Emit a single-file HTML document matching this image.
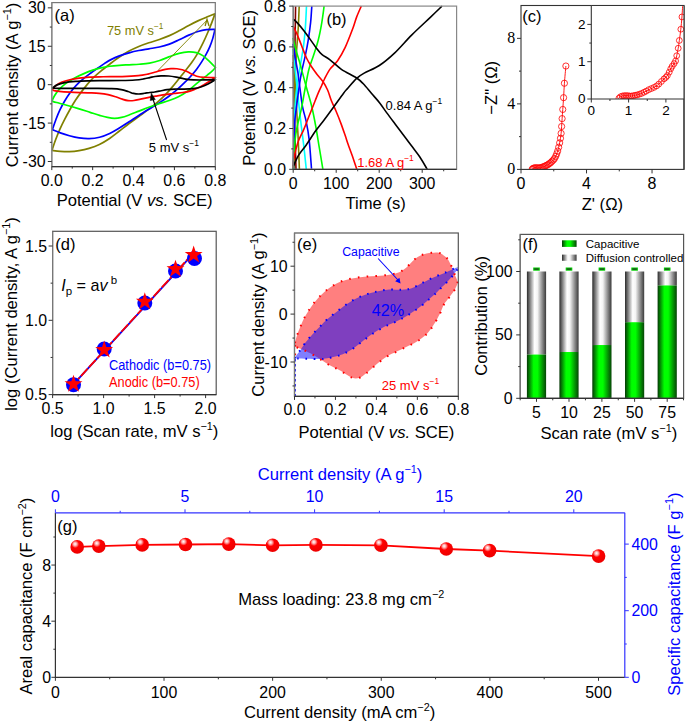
<!DOCTYPE html><html><head><meta charset="utf-8"><style>html,body{margin:0;padding:0;background:#fff;width:685px;height:722px;overflow:hidden}svg{display:block;font-family:"Liberation Sans",sans-serif}</style></head><body>
<svg width="685" height="722" viewBox="0 0 685 722">
<rect width="685" height="722" fill="#fff"/>
<g fill="none" stroke-width="1.7" stroke-linejoin="round">
<path d="M51.9,150.4 C52.55,148.55 54.46,142.83 55.8,139.28 C57.14,135.72 58.43,132.45 59.92,129.1 C61.42,125.75 63.08,122.46 64.78,119.15 C66.48,115.84 68.35,112.36 70.12,109.22 C71.9,106.09 73.63,103.13 75.45,100.32 C77.27,97.52 79.08,94.99 81.03,92.38 C82.97,89.76 85.02,87.1 87.1,84.62 C89.18,82.15 91.24,79.75 93.53,77.5 C95.81,75.25 98.13,73.32 100.83,71.1 C103.52,68.88 106.6,66.54 109.7,64.2 C112.8,61.86 116.17,59.23 119.4,57.05 C122.63,54.87 125.87,52.86 129.1,51.1 C132.33,49.34 135.5,47.88 138.8,46.5 C142.1,45.12 145.45,43.97 148.88,42.8 C152.3,41.63 155.9,40.69 159.32,39.5 C162.75,38.31 166.1,37.1 169.4,35.65 C172.7,34.2 175.87,32.48 179.1,30.78 C182.33,29.08 185.55,27.14 188.78,25.45 C192,23.76 195.32,22.07 198.43,20.62 C201.53,19.18 204.64,17.94 207.4,16.8 C210.16,15.66 213.73,14.3 215,13.8 L215,13.8 C214.46,15.27 212.96,19.53 211.78,22.6 C210.59,25.68 209.33,28.86 207.88,32.25 C206.42,35.64 204.78,39.37 203.05,42.92 C201.32,46.48 199.39,50.3 197.5,53.58 C195.61,56.85 193.68,59.77 191.7,62.58 C189.72,65.38 187.72,67.74 185.6,70.42 C183.48,73.11 181.21,75.9 178.98,78.67 C176.74,81.45 174.46,84.39 172.17,87.08 C169.89,89.76 167.72,92.29 165.28,94.8 C162.83,97.31 160.31,99.68 157.5,102.12 C154.69,104.57 151.55,107.05 148.43,109.45 C145.3,111.85 142,114.15 138.78,116.5 C135.55,118.85 132.33,121.1 129.1,123.53 C125.87,125.95 122.65,128.53 119.4,131.03 C116.15,133.52 112.91,136.25 109.58,138.5 C106.24,140.75 102.8,142.89 99.38,144.53 C95.95,146.16 92.43,147.32 89.05,148.32 C85.67,149.33 82.38,150.02 79.1,150.55 C75.82,151.08 72.55,151.4 69.4,151.53 C66.25,151.65 63.09,151.46 60.18,151.28 C57.26,151.09 53.28,150.55 51.9,150.4Z" stroke="#808000" stroke-width="1.7" fill="none"/>
<path d="M52.4,129.6 C52.99,127.92 54.67,122.8 55.92,119.52 C57.18,116.25 58.49,113.01 59.92,109.97 C61.36,106.94 62.87,104.12 64.53,101.3 C66.18,98.48 67.93,95.74 69.88,93.07 C71.82,90.41 73.98,87.7 76.2,85.33 C78.42,82.95 80.78,80.85 83.22,78.8 C85.67,76.75 88.32,74.85 90.85,73 C93.38,71.15 96.12,69.27 98.42,67.67 C100.73,66.08 102.59,64.74 104.67,63.4 C106.76,62.06 108.5,60.87 110.95,59.62 C113.4,58.38 116.38,57.06 119.4,55.92 C122.43,54.79 125.87,53.73 129.1,52.83 C132.33,51.93 135.5,51.2 138.8,50.53 C142.1,49.85 145.45,49.39 148.88,48.8 C152.3,48.21 155.9,47.79 159.32,47 C162.75,46.21 166.1,45.28 169.4,44.08 C172.7,42.87 175.87,41.26 179.1,39.77 C182.33,38.29 185.63,36.53 188.78,35.15 C191.92,33.77 195,32.42 197.95,31.5 C200.9,30.58 203.61,29.99 206.45,29.62 C209.29,29.26 213.57,29.35 215,29.3 L215,29.3 C214.63,30.81 213.63,35.5 212.78,38.38 C211.92,41.25 210.95,43.96 209.85,46.58 C208.75,49.19 207.54,51.57 206.2,54.07 C204.86,56.58 203.45,59.06 201.82,61.62 C200.2,64.19 198.37,66.93 196.45,69.45 C194.53,71.97 192.42,74.39 190.3,76.72 C188.18,79.06 185.98,81.27 183.72,83.47 C181.47,85.68 179.27,87.81 176.75,89.97 C174.23,92.14 171.59,94.26 168.6,96.45 C165.61,98.64 162.16,100.95 158.83,103.1 C155.49,105.25 151.94,107.31 148.6,109.38 C145.26,111.44 142.03,113.43 138.78,115.5 C135.53,117.57 132.33,119.72 129.1,121.8 C125.87,123.88 122.63,126.05 119.4,128 C116.17,129.95 113,131.94 109.7,133.48 C106.4,135.01 103.05,136.36 99.62,137.23 C96.2,138.09 92.6,138.55 89.18,138.68 C85.75,138.8 82.4,138.43 79.1,137.95 C75.8,137.47 72.53,136.62 69.4,135.78 C66.27,134.93 63.13,133.9 60.3,132.88 C57.47,131.85 53.72,130.15 52.4,129.6Z" stroke="#0000ff" stroke-width="1.7" fill="none"/>
<path d="M51.9,101.1 C52.31,100.25 53.27,97.85 54.38,96.03 C55.48,94.2 56.69,92.2 58.5,90.18 C60.31,88.15 62.63,85.85 65.25,83.85 C67.87,81.85 71.09,79.88 74.2,78.17 C77.31,76.47 80.8,74.93 83.9,73.6 C87,72.27 89.95,71.13 92.78,70.17 C95.6,69.22 98,68.51 100.83,67.85 C103.65,67.19 106.6,66.65 109.7,66.22 C112.8,65.8 116.17,65.54 119.4,65.3 C122.63,65.06 125.8,64.97 129.1,64.8 C132.4,64.62 135.75,64.53 139.18,64.25 C142.6,63.98 146.2,63.77 149.62,63.15 C153.05,62.53 156.4,61.61 159.7,60.53 C163,59.44 166.17,57.84 169.4,56.65 C172.63,55.46 175.95,54.17 179.1,53.38 C182.25,52.58 185.44,52.02 188.3,51.9 C191.16,51.77 193.86,52 196.27,52.62 C198.69,53.25 200.83,54.4 202.8,55.65 C204.78,56.9 206.53,58.67 208.12,60.12 C209.72,61.58 211.17,63.17 212.4,64.4 C213.63,65.63 214.98,66.98 215.5,67.5 L215.5,67.5 C215.02,68.03 213.95,69.45 212.62,70.67 C211.3,71.9 209.54,73.28 207.58,74.85 C205.61,76.42 203.18,78.22 200.85,80.1 C198.52,81.98 196.04,84.18 193.62,86.15 C191.21,88.12 188.91,90.18 186.38,91.95 C183.84,93.72 181.29,95.33 178.43,96.75 C175.56,98.17 172.4,99.34 169.18,100.5 C165.95,101.66 162.47,102.58 159.07,103.7 C155.68,104.83 152.18,106.01 148.8,107.25 C145.43,108.49 142.03,109.9 138.83,111.15 C135.62,112.4 132.45,113.73 129.57,114.78 C126.7,115.82 124.06,116.83 121.55,117.43 C119.04,118.02 116.86,118.35 114.53,118.35 C112.19,118.35 110.01,117.95 107.53,117.45 C105.04,116.95 102.53,116.17 99.62,115.32 C96.72,114.47 93.67,113.47 90.12,112.35 C86.58,111.23 82.41,109.83 78.35,108.6 C74.29,107.37 69.4,105.96 65.78,104.95 C62.15,103.94 58.91,103.17 56.6,102.53 C54.29,101.88 52.68,101.34 51.9,101.1Z" stroke="#00ff00" stroke-width="1.7" fill="none"/>
<path d="M52.3,89.5 C52.98,88.77 54.74,86.36 56.37,85.1 C58.01,83.84 59.85,82.84 62.1,81.95 C64.35,81.06 67.04,80.42 69.88,79.78 C72.71,79.13 75.88,78.53 79.1,78.07 C82.32,77.62 85.15,77.27 89.17,77.05 C93.2,76.83 97.74,76.83 103.22,76.75 C108.71,76.67 116.27,76.73 122.1,76.55 C127.92,76.37 133.88,76.08 138.18,75.67 C142.48,75.27 145.17,74.66 147.9,74.1 C150.63,73.54 152.53,72.87 154.55,72.3 C156.57,71.73 158.22,71.16 160,70.67 C161.78,70.19 163.41,69.74 165.25,69.4 C167.09,69.06 169.08,68.76 171.03,68.65 C172.97,68.54 175.05,68.56 176.93,68.75 C178.8,68.94 180.6,69.3 182.28,69.78 C183.95,70.25 185.44,70.88 186.97,71.58 C188.51,72.28 189.88,73.2 191.5,73.98 C193.12,74.75 194.55,75.68 196.7,76.25 C198.85,76.82 201.29,77.19 204.43,77.4 C207.56,77.61 213.65,77.48 215.5,77.5 L215.5,77.5 C214.54,78.13 211.65,80.1 209.72,81.3 C207.8,82.5 205.98,83.6 203.98,84.72 C201.98,85.85 199.93,87.06 197.72,88.08 C195.52,89.09 193.18,90.09 190.73,90.82 C188.27,91.56 185.77,92.05 183,92.5 C180.23,92.95 177.18,93.16 174.1,93.52 C171.02,93.89 167.6,94.23 164.53,94.67 C161.45,95.12 158.45,95.7 155.68,96.2 C152.9,96.7 150.42,97.15 147.9,97.65 C145.38,98.15 142.9,98.7 140.57,99.17 C138.25,99.65 136,100.28 133.92,100.53 C131.85,100.77 130.04,100.85 128.1,100.62 C126.16,100.4 124.37,99.81 122.3,99.17 C120.23,98.54 118.05,97.56 115.67,96.8 C113.3,96.04 110.77,95.17 108.03,94.6 C105.28,94.02 102.55,93.65 99.2,93.35 C95.85,93.05 92.11,93 87.95,92.82 C83.79,92.65 78.63,92.49 74.22,92.28 C69.82,92.06 64.84,91.79 61.5,91.53 C58.16,91.26 55.73,91.01 54.2,90.68 C52.67,90.34 52.62,89.7 52.3,89.5Z" stroke="#ff0000" stroke-width="1.7" fill="none"/>
<path d="M52.4,88 C53.19,87.47 55.07,85.76 57.12,84.85 C59.18,83.94 61.7,83.14 64.75,82.55 C67.8,81.96 71.56,81.62 75.42,81.33 C79.29,81.03 83.32,80.92 87.95,80.8 C92.58,80.68 97.7,80.67 103.22,80.62 C108.75,80.58 115.76,80.6 121.07,80.5 C126.39,80.4 131.37,80.26 135.12,80 C138.88,79.74 141.18,79.35 143.62,78.95 C146.07,78.55 147.9,78.03 149.8,77.62 C151.7,77.22 153.12,76.78 155,76.5 C156.88,76.22 158.8,76 161.07,75.92 C163.35,75.85 166.12,75.83 168.65,76.02 C171.18,76.22 173.66,76.64 176.25,77.1 C178.84,77.56 181.35,78.34 184.2,78.8 C187.05,79.26 190.12,79.68 193.38,79.88 C196.63,80.07 200.04,80.02 203.72,79.97 C207.41,79.93 213.54,79.66 215.5,79.6 L215.5,79.6 C214.26,80.33 210.49,82.75 208.05,83.97 C205.61,85.2 203.38,86.21 200.85,86.98 C198.32,87.74 195.75,88.2 192.9,88.55 C190.05,88.9 186.74,88.97 183.72,89.05 C180.71,89.13 177.58,88.95 174.8,89.05 C172.03,89.15 169.49,89.33 167.08,89.65 C164.66,89.97 162.38,90.58 160.32,90.97 C158.27,91.37 156.5,91.74 154.75,92 C153,92.26 151.54,92.31 149.85,92.53 C148.16,92.74 146.41,93.03 144.6,93.28 C142.79,93.52 140.82,93.97 138.97,94 C137.13,94.03 135.34,93.87 133.53,93.45 C131.71,93.03 130.14,92.14 128.1,91.5 C126.06,90.86 124.02,90.07 121.28,89.6 C118.53,89.13 115.75,88.89 111.62,88.7 C107.5,88.51 102.32,88.49 96.55,88.45 C90.78,88.41 82.87,88.46 77.03,88.45 C71.18,88.44 65.6,88.45 61.5,88.38 C57.4,88.3 53.92,88.06 52.4,88Z" stroke="#000" stroke-width="1.7" fill="none"/>
</g>
<line x1="158.2" y1="70.3" x2="207" y2="20.2" stroke="#808000" stroke-width="0.9"/>
<path d="M205.1,26 L207,19.3 L209,26" stroke="#808000" stroke-width="1.3" fill="none"/>
<line x1="166.6" y1="140" x2="152.6" y2="98" stroke="#000" stroke-width="1.1"/>
<path d="M150.2,100.6 L151.3,93.2 L155.3,99.6 Z" stroke="#000" stroke-width="0.5" fill="#000"/>
<rect x="51.8" y="2.6" width="163.5" height="164" stroke="#777" stroke-width="1.2" fill="none"/>
<line x1="51.8" y1="2.6" x2="51.8" y2="166.6" stroke="#8a8a8a" stroke-width="1.2"/>
<line x1="51.8" y1="166.6" x2="215.3" y2="166.6" stroke="#333" stroke-width="1.2"/>
<line x1="47.8" y1="7.85" x2="51.8" y2="7.85" stroke="#333" stroke-width="1"/>
<line x1="47.8" y1="46.27" x2="51.8" y2="46.27" stroke="#333" stroke-width="1"/>
<line x1="47.8" y1="84.68" x2="51.8" y2="84.68" stroke="#333" stroke-width="1"/>
<line x1="47.8" y1="123.09" x2="51.8" y2="123.09" stroke="#333" stroke-width="1"/>
<line x1="47.8" y1="161.51" x2="51.8" y2="161.51" stroke="#333" stroke-width="1"/>
<line x1="49.8" y1="27.06" x2="51.8" y2="27.06" stroke="#333" stroke-width="1"/>
<line x1="49.8" y1="65.47" x2="51.8" y2="65.47" stroke="#333" stroke-width="1"/>
<line x1="49.8" y1="103.89" x2="51.8" y2="103.89" stroke="#333" stroke-width="1"/>
<line x1="49.8" y1="142.3" x2="51.8" y2="142.3" stroke="#333" stroke-width="1"/>
<line x1="51.8" y1="166.6" x2="51.8" y2="170.1" stroke="#333" stroke-width="1"/>
<line x1="92.67" y1="166.6" x2="92.67" y2="170.1" stroke="#333" stroke-width="1"/>
<line x1="133.55" y1="166.6" x2="133.55" y2="170.1" stroke="#333" stroke-width="1"/>
<line x1="174.42" y1="166.6" x2="174.42" y2="170.1" stroke="#333" stroke-width="1"/>
<line x1="215.3" y1="166.6" x2="215.3" y2="170.1" stroke="#333" stroke-width="1"/>
<line x1="72.24" y1="166.6" x2="72.24" y2="168.6" stroke="#333" stroke-width="1"/>
<line x1="113.11" y1="166.6" x2="113.11" y2="168.6" stroke="#333" stroke-width="1"/>
<line x1="153.99" y1="166.6" x2="153.99" y2="168.6" stroke="#333" stroke-width="1"/>
<line x1="194.86" y1="166.6" x2="194.86" y2="168.6" stroke="#333" stroke-width="1"/>
<text transform="translate(45.6,13.35) scale(1,1.09)" font-size="15.9" text-anchor="end" fill="#000">30</text>
<text transform="translate(45.6,51.77) scale(1,1.09)" font-size="15.9" text-anchor="end" fill="#000">15</text>
<text transform="translate(45.6,90.18) scale(1,1.09)" font-size="15.9" text-anchor="end" fill="#000">0</text>
<text transform="translate(45.6,128.59) scale(1,1.09)" font-size="15.9" text-anchor="end" fill="#000">-15</text>
<text transform="translate(45.6,167.01) scale(1,1.09)" font-size="15.9" text-anchor="end" fill="#000">-30</text>
<text transform="translate(51.8,185.7) scale(1,1.09)" font-size="15.9" text-anchor="middle" fill="#000">0.0</text>
<text transform="translate(92.67,185.7) scale(1,1.09)" font-size="15.9" text-anchor="middle" fill="#000">0.2</text>
<text transform="translate(133.55,185.7) scale(1,1.09)" font-size="15.9" text-anchor="middle" fill="#000">0.4</text>
<text transform="translate(174.42,185.7) scale(1,1.09)" font-size="15.9" text-anchor="middle" fill="#000">0.6</text>
<text transform="translate(215.3,185.7) scale(1,1.09)" font-size="15.9" text-anchor="middle" fill="#000">0.8</text>
<text x="134.6" y="205.5" font-size="16.6" text-anchor="middle" fill="#000">Potential (V <tspan font-style="italic">vs.</tspan> SCE)</text>
<text x="0" y="0" font-size="16.6" text-anchor="middle" fill="#000" transform="translate(17.6,85) rotate(-90)">Current density (A g<tspan dy="-6.47" font-size="10.79">−1</tspan><tspan dy="6.47">)</tspan></text>
<text x="54.6" y="20.6" font-size="16.5" text-anchor="start" fill="#000">(a)</text>
<text x="107" y="34.8" font-size="12.8" text-anchor="start" fill="#808000">75 mV s<tspan dy="-5.76" font-size="8.32">−1</tspan></text>
<text x="148.8" y="152.3" font-size="13" text-anchor="start" fill="#000">5 mV s<tspan dy="-5.85" font-size="8.45">−1</tspan></text>
<g fill="none" stroke-width="1.6" stroke-linejoin="round">
<path d="M293.6,169 C293.72,157.5 294.08,119.83 294.3,100 C294.52,80.17 294.68,65.63 294.9,50 C295.12,34.37 295.48,13.5 295.6,6.2" stroke="#800000" stroke-width="1.6" fill="none"/>
<path d="M293.2,62 C293.37,68.33 293.9,87.83 294.2,100 C294.5,112.17 294.7,123.45 295,135 C295.3,146.55 295.83,163.58 296,169.3" stroke="#800000" stroke-width="1.6" fill="none"/>
<path d="M293.5,169 C293.63,160.83 294,135.57 294.3,120 C294.6,104.43 294.93,86.93 295.3,75.6 C295.67,64.27 296.02,59.85 296.5,52 C296.98,44.15 297.75,36.13 298.2,28.5 C298.65,20.87 299.03,9.92 299.2,6.2" stroke="#808000" stroke-width="1.6" fill="none"/>
<path d="M293.2,55 C293.42,59.17 293.97,71.67 294.5,80 C295.03,88.33 295.82,95.83 296.4,105 C296.98,114.17 297.5,124.28 298,135 C298.5,145.72 299.17,163.58 299.4,169.3" stroke="#808000" stroke-width="1.6" fill="none"/>
<path d="M293.5,169 C293.62,162.17 293.83,139.83 294.2,128 C294.57,116.17 295.03,106.33 295.7,98 C296.37,89.67 297.38,83.7 298.2,78 C299.02,72.3 299.72,69.1 300.6,63.8 C301.48,58.5 302.72,52.08 303.5,46.2 C304.28,40.32 304.8,35.17 305.3,28.5 C305.8,21.83 306.3,9.92 306.5,6.2" stroke="#00ffff" stroke-width="1.6" fill="none"/>
<path d="M292.9,49 C293.2,51.87 294.08,60.53 294.7,66.2 C295.32,71.87 295.72,74.85 296.6,83 C297.48,91.15 298.82,104.73 300,115.1 C301.18,125.47 302.65,136.17 303.7,145.2 C304.75,154.23 305.87,165.28 306.3,169.3" stroke="#00ffff" stroke-width="1.6" fill="none"/>
<path d="M293.5,169 C293.58,164.17 293.78,147.98 294,140 C294.22,132.02 294.3,127.25 294.8,121.1 C295.3,114.95 296.23,109.12 297,103.1 C297.77,97.08 298.6,90.37 299.4,85 C300.2,79.63 300.82,75.8 301.8,70.9 C302.78,66 304.23,60.7 305.3,55.6 C306.37,50.5 307.32,45.8 308.2,40.3 C309.08,34.8 310,28.28 310.6,22.6 C311.2,16.92 311.6,8.93 311.8,6.2" stroke="#0000ff" stroke-width="1.6" fill="none"/>
<path d="M292.9,43.8 C293.3,46.15 294.48,53.2 295.3,57.9 C296.12,62.6 297.05,67.15 297.8,72 C298.55,76.85 299.02,81.22 299.8,87 C300.58,92.78 301.45,101.02 302.5,106.7 C303.55,112.38 305,115.68 306.1,121.1 C307.2,126.52 308.2,131.25 309.1,139.2 C310,147.15 311.1,163.87 311.5,168.8" stroke="#0000ff" stroke-width="1.6" fill="none"/>
<path d="M293.5,169 C293.78,164.03 294.52,146.57 295.2,139.2 C295.88,131.83 296.58,129.82 297.6,124.8 C298.62,119.78 300.03,115.23 301.3,109.1 C302.57,102.97 303.95,94.57 305.2,88 C306.45,81.43 307.42,75.1 308.8,69.7 C310.18,64.3 311.93,60.5 313.5,55.6 C315.07,50.7 316.82,45.8 318.2,40.3 C319.58,34.8 320.82,28.28 321.8,22.6 C322.78,16.92 323.72,8.93 324.1,6.2" stroke="#00ff00" stroke-width="1.6" fill="none"/>
<path d="M292.9,37.9 C293.4,39.87 294.82,45.77 295.9,49.7 C296.98,53.63 298.23,57.38 299.4,61.5 C300.57,65.62 301.75,70.15 302.9,74.4 C304.05,78.65 304.87,81.82 306.3,87 C307.73,92.18 309.93,99 311.5,105.5 C313.07,112 314.4,118.97 315.7,126 C317,133.03 318.1,140.48 319.3,147.7 C320.5,154.92 322.3,165.7 322.9,169.3" stroke="#00ff00" stroke-width="1.6" fill="none"/>
<path d="M293.4,168 C293.5,166.33 293.2,162.4 294,158 C294.8,153.6 296.58,146.33 298.2,141.6 C299.82,136.87 301.98,133.62 303.7,129.6 C305.42,125.58 306.9,121.52 308.5,117.5 C310.1,113.48 311.7,109.52 313.3,105.5 C314.9,101.48 316.7,96.73 318.1,93.4 C319.5,90.07 320.63,87.9 321.7,85.5 C322.77,83.1 323.12,81.73 324.5,79 C325.88,76.27 327.82,72.15 330,69.1 C332.18,66.05 335.07,64.32 337.6,60.7 C340.13,57.08 342.67,52.77 345.2,47.4 C347.73,42.03 350.9,33.55 352.8,28.5 C354.7,23.45 355.18,20.83 356.6,17.1 C358.02,13.37 360.52,7.93 361.3,6.1" stroke="#ff0000" stroke-width="1.6" fill="none"/>
<path d="M293.5,26.8 C294.1,28.07 295.72,31.17 297.1,34.4 C298.48,37.63 300.23,42.27 301.8,46.2 C303.37,50.13 304.93,54.67 306.5,58 C308.07,61.33 309.43,63.47 311.2,66.2 C312.97,68.93 315.15,71.85 317.1,74.4 C319.05,76.95 321.15,78.9 322.9,81.5 C324.65,84.1 326.18,86.8 327.6,90 C329.02,93.2 329.97,97.12 331.4,100.7 C332.83,104.28 334.6,107.68 336.2,111.5 C337.8,115.32 339.5,119.58 341,123.6 C342.5,127.62 344.03,132.2 345.2,135.6 C346.37,139 346.87,140.77 348,144 C349.13,147.23 350.53,150.78 352,155 C353.47,159.22 356,166.92 356.8,169.3" stroke="#ff0000" stroke-width="1.6" fill="none"/>
<path d="M293.4,166 C294.3,164.15 296.68,158.37 298.8,154.9 C300.92,151.43 303.28,149.22 306.1,145.2 C308.92,141.18 312.7,135.02 315.7,130.8 C318.7,126.58 321.08,123.92 324.1,119.9 C327.12,115.88 330.58,111.12 333.8,106.7 C337.02,102.28 341.03,96.52 343.4,93.4 C345.77,90.28 345.8,90.52 348,88 C350.2,85.48 353.9,80.78 356.6,78.3 C359.3,75.82 360.42,75.23 364.2,73.1 C367.98,70.97 374.25,68.83 379.3,65.5 C384.35,62.17 389.12,58.17 394.5,53.1 C399.88,48.03 405.58,41.1 411.6,35.1 C417.62,29.1 425.53,21.93 430.6,17.1 C435.67,12.27 440.1,7.93 442,6.1" stroke="#000" stroke-width="1.6" fill="none"/>
<path d="M293.2,19.1 C293.85,19.68 295.28,20.63 297.1,22.6 C298.92,24.57 301.95,28.15 304.1,30.9 C306.25,33.65 308.03,36.35 310,39.1 C311.97,41.85 313.93,44.85 315.9,47.4 C317.87,49.95 319.45,52.33 321.8,54.4 C324.15,56.47 326.73,57.32 330,59.8 C333.27,62.28 336.97,66.27 341.4,69.3 C345.83,72.33 352.95,75.58 356.6,78 C360.25,80.42 360.8,81.22 363.3,83.8 C365.8,86.38 368.83,90.27 371.6,93.5 C374.37,96.73 377.37,99.97 379.9,103.2 C382.43,106.43 384.27,109.43 386.8,112.9 C389.33,116.37 392.33,120.32 395.1,124 C397.87,127.68 400.63,131.32 403.4,135 C406.17,138.68 408.93,142.4 411.7,146.1 C414.47,149.8 417.42,153.33 420,157.2 C422.58,161.07 426,167.28 427.2,169.3" stroke="#000" stroke-width="1.6" fill="none"/>
</g>
<rect x="293.2" y="6.1" width="163.4" height="163.2" stroke="#888" stroke-width="1.2" fill="none"/>
<line x1="293.2" y1="6.1" x2="293.2" y2="169.3" stroke="#777" stroke-width="1.2"/>
<line x1="293.2" y1="169.3" x2="456.6" y2="169.3" stroke="#333" stroke-width="1.2"/>
<line x1="289.2" y1="169.3" x2="293.2" y2="169.3" stroke="#333" stroke-width="1"/>
<line x1="289.2" y1="128.5" x2="293.2" y2="128.5" stroke="#333" stroke-width="1"/>
<line x1="289.2" y1="87.7" x2="293.2" y2="87.7" stroke="#333" stroke-width="1"/>
<line x1="289.2" y1="46.9" x2="293.2" y2="46.9" stroke="#333" stroke-width="1"/>
<line x1="289.2" y1="6.1" x2="293.2" y2="6.1" stroke="#333" stroke-width="1"/>
<line x1="291.2" y1="148.9" x2="293.2" y2="148.9" stroke="#333" stroke-width="1"/>
<line x1="291.2" y1="108.1" x2="293.2" y2="108.1" stroke="#333" stroke-width="1"/>
<line x1="291.2" y1="67.3" x2="293.2" y2="67.3" stroke="#333" stroke-width="1"/>
<line x1="291.2" y1="26.5" x2="293.2" y2="26.5" stroke="#333" stroke-width="1"/>
<line x1="293.2" y1="169.3" x2="293.2" y2="172.8" stroke="#333" stroke-width="1"/>
<line x1="336.2" y1="169.3" x2="336.2" y2="172.8" stroke="#333" stroke-width="1"/>
<line x1="379.2" y1="169.3" x2="379.2" y2="172.8" stroke="#333" stroke-width="1"/>
<line x1="422.2" y1="169.3" x2="422.2" y2="172.8" stroke="#333" stroke-width="1"/>
<line x1="314.7" y1="169.3" x2="314.7" y2="171.3" stroke="#333" stroke-width="1"/>
<line x1="357.7" y1="169.3" x2="357.7" y2="171.3" stroke="#333" stroke-width="1"/>
<line x1="400.7" y1="169.3" x2="400.7" y2="171.3" stroke="#333" stroke-width="1"/>
<line x1="443.7" y1="169.3" x2="443.7" y2="171.3" stroke="#333" stroke-width="1"/>
<text transform="translate(286.2,174.8) scale(1,1.09)" font-size="15.9" text-anchor="end" fill="#000">0.0</text>
<text transform="translate(286.2,134) scale(1,1.09)" font-size="15.9" text-anchor="end" fill="#000">0.2</text>
<text transform="translate(286.2,93.2) scale(1,1.09)" font-size="15.9" text-anchor="end" fill="#000">0.4</text>
<text transform="translate(286.2,52.4) scale(1,1.09)" font-size="15.9" text-anchor="end" fill="#000">0.6</text>
<text transform="translate(286.2,11.6) scale(1,1.09)" font-size="15.9" text-anchor="end" fill="#000">0.8</text>
<text transform="translate(293.2,188.9) scale(1,1.09)" font-size="15.9" text-anchor="middle" fill="#000">0</text>
<text transform="translate(336.2,188.9) scale(1,1.09)" font-size="15.9" text-anchor="middle" fill="#000">100</text>
<text transform="translate(379.2,188.9) scale(1,1.09)" font-size="15.9" text-anchor="middle" fill="#000">200</text>
<text transform="translate(422.2,188.9) scale(1,1.09)" font-size="15.9" text-anchor="middle" fill="#000">300</text>
<text x="375.7" y="209.4" font-size="16.6" text-anchor="middle" fill="#000">Time (s)</text>
<text x="0" y="0" font-size="16.6" text-anchor="middle" fill="#000" transform="translate(255,87.8) rotate(-90)">Potential (V <tspan font-style="italic">vs.</tspan> SCE)</text>
<text x="326.4" y="25.1" font-size="16.5" text-anchor="start" fill="#000">(b)</text>
<text x="385.6" y="110.3" font-size="13" text-anchor="start" fill="#000">0.84 A g<tspan dy="-5.85" font-size="8.45">−1</tspan></text>
<text x="357.2" y="166.7" font-size="13" text-anchor="start" fill="#ff0000">1.68 A g<tspan dy="-5.85" font-size="8.45">−1</tspan></text>
<defs><clipPath id="cclip"><rect x="521" y="5.5" width="163" height="163.9"/></clipPath></defs>
<g fill="none" stroke="#ff0000" clip-path="url(#cclip)">
<path d="M532.14,169.4 C532.25,169.26 532.52,168.8 532.79,168.58 C533.07,168.36 533.39,168.23 533.78,168.09 C534.16,167.95 534.65,167.82 535.09,167.76 C535.52,167.71 535.96,167.73 536.4,167.76 C536.83,167.79 537.27,167.9 537.71,167.93 C538.14,167.95 538.58,167.95 539.02,167.93 C539.45,167.9 539.89,167.84 540.33,167.76 C540.77,167.68 541.2,167.57 541.64,167.43 C542.08,167.3 542.51,167.11 542.95,166.94 C543.39,166.78 543.82,166.64 544.26,166.45 C544.7,166.26 545.13,166.01 545.57,165.8 C546.01,165.58 546.44,165.36 546.88,165.14 C547.32,164.92 547.75,164.76 548.19,164.49 C548.63,164.21 549.06,163.83 549.5,163.5 C549.94,163.18 550.37,162.9 550.81,162.52 C551.25,162.14 551.69,161.65 552.12,161.21 C552.56,160.77 553.02,160.36 553.43,159.9 C553.84,159.44 554.2,159.03 554.58,158.43 C554.96,157.82 555.37,157.06 555.73,156.3 C556.08,155.53 556.38,154.71 556.71,153.84 C557.04,152.97 557.36,152.15 557.69,151.05 C558.02,149.96 558.35,148.65 558.67,147.29 C559,145.92 559.36,144.37 559.66,142.86 C559.96,141.36 560.23,139.86 560.48,138.28 C560.72,136.69 560.94,135.33 561.13,133.36 C561.32,131.4 561.46,128.94 561.62,126.48 C561.79,124.03 561.92,121.46 562.11,118.62 C562.3,115.78 562.52,112.94 562.77,109.45 C563.01,105.95 563.31,102.02 563.59,97.66 C563.86,93.29 564.02,88.51 564.41,83.24 C564.79,77.97 565.64,68.91 565.88,66.04" stroke="#ff0000" stroke-width="0.9" fill="none"/>
<circle cx="532.14" cy="169.4" r="3.1" stroke-width="0.8"/>
<circle cx="532.79" cy="168.58" r="3.1" stroke-width="0.8"/>
<circle cx="533.78" cy="168.09" r="3.1" stroke-width="0.8"/>
<circle cx="535.09" cy="167.76" r="3.1" stroke-width="0.8"/>
<circle cx="536.4" cy="167.76" r="3.1" stroke-width="0.8"/>
<circle cx="537.71" cy="167.93" r="3.1" stroke-width="0.8"/>
<circle cx="539.02" cy="167.93" r="3.1" stroke-width="0.8"/>
<circle cx="540.33" cy="167.76" r="3.1" stroke-width="0.8"/>
<circle cx="541.64" cy="167.43" r="3.1" stroke-width="0.8"/>
<circle cx="542.95" cy="166.94" r="3.1" stroke-width="0.8"/>
<circle cx="544.26" cy="166.45" r="3.1" stroke-width="0.8"/>
<circle cx="545.57" cy="165.8" r="3.1" stroke-width="0.8"/>
<circle cx="546.88" cy="165.14" r="3.1" stroke-width="0.8"/>
<circle cx="548.19" cy="164.49" r="3.1" stroke-width="0.8"/>
<circle cx="549.5" cy="163.5" r="3.1" stroke-width="0.8"/>
<circle cx="550.81" cy="162.52" r="3.1" stroke-width="0.8"/>
<circle cx="552.12" cy="161.21" r="3.1" stroke-width="0.8"/>
<circle cx="553.43" cy="159.9" r="3.1" stroke-width="0.8"/>
<circle cx="554.58" cy="158.43" r="3.1" stroke-width="0.8"/>
<circle cx="555.73" cy="156.3" r="3.1" stroke-width="0.8"/>
<circle cx="556.71" cy="153.84" r="3.1" stroke-width="0.8"/>
<circle cx="557.69" cy="151.05" r="3.1" stroke-width="0.8"/>
<circle cx="558.67" cy="147.29" r="3.1" stroke-width="0.8"/>
<circle cx="559.66" cy="142.86" r="3.1" stroke-width="0.8"/>
<circle cx="560.48" cy="138.28" r="3.1" stroke-width="0.8"/>
<circle cx="561.13" cy="133.36" r="3.1" stroke-width="0.8"/>
<circle cx="561.62" cy="126.48" r="3.1" stroke-width="0.8"/>
<circle cx="562.11" cy="118.62" r="3.1" stroke-width="0.8"/>
<circle cx="562.77" cy="109.45" r="3.1" stroke-width="0.8"/>
<circle cx="563.59" cy="97.66" r="3.1" stroke-width="0.8"/>
<circle cx="564.41" cy="83.24" r="3.1" stroke-width="0.8"/>
<circle cx="565.88" cy="66.04" r="3.1" stroke-width="0.8"/>
</g>
<rect x="521" y="5.5" width="163" height="163.9" stroke="#333" stroke-width="1.1" fill="none"/>
<line x1="517" y1="169.4" x2="521" y2="169.4" stroke="#333" stroke-width="1"/>
<line x1="517" y1="103.88" x2="521" y2="103.88" stroke="#333" stroke-width="1"/>
<line x1="517" y1="38.36" x2="521" y2="38.36" stroke="#333" stroke-width="1"/>
<line x1="519" y1="136.64" x2="521" y2="136.64" stroke="#333" stroke-width="1"/>
<line x1="519" y1="71.12" x2="521" y2="71.12" stroke="#333" stroke-width="1"/>
<line x1="521" y1="169.4" x2="521" y2="173.4" stroke="#333" stroke-width="1"/>
<line x1="586.52" y1="169.4" x2="586.52" y2="173.4" stroke="#333" stroke-width="1"/>
<line x1="652.04" y1="169.4" x2="652.04" y2="173.4" stroke="#333" stroke-width="1"/>
<line x1="553.76" y1="169.4" x2="553.76" y2="171.4" stroke="#333" stroke-width="1"/>
<line x1="619.28" y1="169.4" x2="619.28" y2="171.4" stroke="#333" stroke-width="1"/>
<text transform="translate(515.2,174.3) scale(1,1.06)" font-size="16" text-anchor="end" fill="#000" font-family="Liberation Serif">0</text>
<text x="521" y="188.5" font-size="16" text-anchor="middle" fill="#000">0</text>
<text transform="translate(515.2,108.78) scale(1,1.06)" font-size="16" text-anchor="end" fill="#000" font-family="Liberation Serif">4</text>
<text x="586.52" y="188.5" font-size="16" text-anchor="middle" fill="#000">4</text>
<text transform="translate(515.2,43.26) scale(1,1.06)" font-size="16" text-anchor="end" fill="#000" font-family="Liberation Serif">8</text>
<text x="652.04" y="188.5" font-size="16" text-anchor="middle" fill="#000">8</text>
<text x="602.4" y="210.2" font-size="16.6" text-anchor="middle" fill="#000">Z' (Ω)</text>
<text x="0" y="0" font-size="16.6" text-anchor="middle" fill="#000" transform="translate(497,87.8) rotate(-90)">−Z" (Ω)</text>
<text x="522.3" y="22" font-size="16.5" text-anchor="start" fill="#000">(c)</text>
<rect x="591.3" y="5.5" width="92.7" height="93.5" fill="#fff"/>
<svg x="591.3" y="5.5" width="92.7" height="93.5" viewBox="591.3 5.5 92.7 93.5" overflow="hidden">
<g fill="none" stroke="#ff0000">
<path d="M618.9,98.25 C619.15,98.01 619.83,97.14 620.39,96.76 C620.95,96.39 621.64,96.2 622.26,96.02 C622.88,95.83 623.5,95.71 624.12,95.64 C624.75,95.58 625.37,95.64 625.99,95.64 C626.61,95.64 627.23,95.58 627.85,95.64 C628.48,95.71 629.1,95.95 629.72,96.02 C630.34,96.08 630.96,96.08 631.58,96.02 C632.21,95.95 632.83,95.77 633.45,95.64 C634.07,95.52 634.69,95.39 635.31,95.27 C635.94,95.15 636.5,95.08 637.18,94.9 C637.86,94.71 638.67,94.4 639.42,94.15 C640.16,93.9 640.91,93.72 641.65,93.41 C642.4,93.09 643.15,92.66 643.89,92.29 C644.64,91.91 645.32,91.6 646.13,91.17 C646.94,90.73 647.87,90.11 648.74,89.67 C649.61,89.24 650.48,88.93 651.35,88.56 C652.22,88.18 653.09,87.87 653.96,87.44 C654.83,87 655.77,86.5 656.57,85.95 C657.38,85.39 658,84.83 658.81,84.08 C659.62,83.33 660.55,82.34 661.42,81.47 C662.29,80.6 663.29,79.54 664.03,78.86 C664.78,78.17 665.34,77.93 665.9,77.37 C666.46,76.81 666.83,76.37 667.39,75.5 C667.95,74.63 668.7,73.26 669.26,72.14 C669.82,71.03 670.25,69.78 670.75,68.79 C671.25,67.79 671.68,67.05 672.24,66.18 C672.8,65.31 673.55,64.44 674.11,63.57 C674.67,62.69 675.16,62.26 675.6,60.95 C676.03,59.65 676.28,57.85 676.72,55.73 C677.15,53.62 677.77,50.82 678.21,48.27 C678.64,45.72 678.89,43.61 679.33,40.44 C679.76,37.27 680.38,33.17 680.82,29.25 C681.26,25.33 681.6,21.48 681.94,16.94 C682.28,12.4 682.72,4.51 682.87,2.02" stroke="#ff0000" stroke-width="0.9" fill="none"/>
<circle cx="618.9" cy="98.25" r="2.9" stroke-width="0.8"/>
<circle cx="620.39" cy="96.76" r="2.9" stroke-width="0.8"/>
<circle cx="622.26" cy="96.02" r="2.9" stroke-width="0.8"/>
<circle cx="624.12" cy="95.64" r="2.9" stroke-width="0.8"/>
<circle cx="625.99" cy="95.64" r="2.9" stroke-width="0.8"/>
<circle cx="627.85" cy="95.64" r="2.9" stroke-width="0.8"/>
<circle cx="629.72" cy="96.02" r="2.9" stroke-width="0.8"/>
<circle cx="631.58" cy="96.02" r="2.9" stroke-width="0.8"/>
<circle cx="633.45" cy="95.64" r="2.9" stroke-width="0.8"/>
<circle cx="635.31" cy="95.27" r="2.9" stroke-width="0.8"/>
<circle cx="637.18" cy="94.9" r="2.9" stroke-width="0.8"/>
<circle cx="639.42" cy="94.15" r="2.9" stroke-width="0.8"/>
<circle cx="641.65" cy="93.41" r="2.9" stroke-width="0.8"/>
<circle cx="643.89" cy="92.29" r="2.9" stroke-width="0.8"/>
<circle cx="646.13" cy="91.17" r="2.9" stroke-width="0.8"/>
<circle cx="648.74" cy="89.67" r="2.9" stroke-width="0.8"/>
<circle cx="651.35" cy="88.56" r="2.9" stroke-width="0.8"/>
<circle cx="653.96" cy="87.44" r="2.9" stroke-width="0.8"/>
<circle cx="656.57" cy="85.95" r="2.9" stroke-width="0.8"/>
<circle cx="658.81" cy="84.08" r="2.9" stroke-width="0.8"/>
<circle cx="661.42" cy="81.47" r="2.9" stroke-width="0.8"/>
<circle cx="664.03" cy="78.86" r="2.9" stroke-width="0.8"/>
<circle cx="665.9" cy="77.37" r="2.9" stroke-width="0.8"/>
<circle cx="667.39" cy="75.5" r="2.9" stroke-width="0.8"/>
<circle cx="669.26" cy="72.14" r="2.9" stroke-width="0.8"/>
<circle cx="670.75" cy="68.79" r="2.9" stroke-width="0.8"/>
<circle cx="672.24" cy="66.18" r="2.9" stroke-width="0.8"/>
<circle cx="674.11" cy="63.57" r="2.9" stroke-width="0.8"/>
<circle cx="675.6" cy="60.95" r="2.9" stroke-width="0.8"/>
<circle cx="676.72" cy="55.73" r="2.9" stroke-width="0.8"/>
<circle cx="678.21" cy="48.27" r="2.9" stroke-width="0.8"/>
<circle cx="679.33" cy="40.44" r="2.9" stroke-width="0.8"/>
<circle cx="680.82" cy="29.25" r="2.9" stroke-width="0.8"/>
<circle cx="681.94" cy="16.94" r="2.9" stroke-width="0.8"/>
</g></svg>
<line x1="591.3" y1="5.5" x2="591.3" y2="99" stroke="#333" stroke-width="1.1"/>
<line x1="591.3" y1="99" x2="684" y2="99" stroke="#333" stroke-width="1.1"/>
<line x1="591.3" y1="5.5" x2="684" y2="5.5" stroke="#333" stroke-width="1.1"/>
<line x1="684" y1="5.5" x2="684" y2="169.4" stroke="#333" stroke-width="1.1"/>
<line x1="587.3" y1="99" x2="591.3" y2="99" stroke="#333" stroke-width="1"/>
<line x1="587.3" y1="61.7" x2="591.3" y2="61.7" stroke="#333" stroke-width="1"/>
<line x1="587.3" y1="24.4" x2="591.3" y2="24.4" stroke="#333" stroke-width="1"/>
<line x1="589.3" y1="80.35" x2="591.3" y2="80.35" stroke="#333" stroke-width="1"/>
<line x1="589.3" y1="43.05" x2="591.3" y2="43.05" stroke="#333" stroke-width="1"/>
<line x1="591.3" y1="99" x2="591.3" y2="102.5" stroke="#333" stroke-width="1"/>
<line x1="628.6" y1="99" x2="628.6" y2="102.5" stroke="#333" stroke-width="1"/>
<line x1="665.9" y1="99" x2="665.9" y2="102.5" stroke="#333" stroke-width="1"/>
<line x1="609.95" y1="99" x2="609.95" y2="101" stroke="#333" stroke-width="1"/>
<line x1="647.25" y1="99" x2="647.25" y2="101" stroke="#333" stroke-width="1"/>
<text x="585.6" y="103.3" font-size="13.5" text-anchor="end" fill="#000">0</text>
<text x="591.3" y="114.5" font-size="13.5" text-anchor="middle" fill="#000">0</text>
<text x="585.6" y="66" font-size="13.5" text-anchor="end" fill="#000">1</text>
<text x="628.6" y="114.5" font-size="13.5" text-anchor="middle" fill="#000">1</text>
<text x="585.6" y="28.7" font-size="13.5" text-anchor="end" fill="#000">2</text>
<text x="665.9" y="114.5" font-size="13.5" text-anchor="middle" fill="#000">2</text>
<path d="M72.9,384.94 L192.85,254.17" stroke="#0000ff" stroke-width="1.8" fill="none"/>
<path d="M72.9,384.94 L192.85,253.43" stroke="#ff0000" stroke-width="1.8" fill="none" stroke-dasharray="10,2"/>
<circle cx="73.5" cy="384.7" r="7.5" fill="#0000ff"/>
<circle cx="104.2" cy="349.03" r="7.5" fill="#0000ff"/>
<circle cx="144.8" cy="302.97" r="7.5" fill="#0000ff"/>
<circle cx="175.5" cy="271.02" r="7.5" fill="#0000ff"/>
<circle cx="194.47" cy="258.39" r="7.5" fill="#0000ff"/>
<path d="M73.5,374.8 L75.61,381.29 L82.44,381.29 L76.92,385.31 L79.02,391.8 L73.5,387.8 L67.97,391.8 L70.07,385.31 L64.56,381.29 L71.38,381.29Z" stroke="none" stroke-width="0" fill="#ff0000"/>
<path d="M104.2,340.62 L106.32,347.11 L113.14,347.12 L107.62,351.13 L109.73,357.62 L104.2,353.62 L98.67,357.62 L100.78,351.13 L95.26,347.12 L102.08,347.11Z" stroke="none" stroke-width="0" fill="#ff0000"/>
<path d="M144.8,292.33 L146.91,298.81 L153.74,298.82 L148.22,302.84 L150.32,309.33 L144.8,305.33 L139.27,309.33 L141.37,302.84 L135.86,298.82 L142.68,298.81Z" stroke="none" stroke-width="0" fill="#ff0000"/>
<path d="M175.5,259.63 L177.61,266.12 L184.44,266.13 L178.92,270.15 L181.02,276.64 L175.5,272.63 L169.97,276.64 L172.07,270.15 L166.56,266.13 L173.38,266.12Z" stroke="none" stroke-width="0" fill="#ff0000"/>
<path d="M193.65,245.52 L195.77,252 L202.59,252.01 L197.08,256.03 L199.18,262.52 L193.65,258.52 L188.13,262.52 L190.23,256.03 L184.71,252.01 L191.54,252Z" stroke="none" stroke-width="0" fill="#ff0000"/>
<rect x="52.6" y="231.3" width="163.6" height="163.3" stroke="#555" stroke-width="1.2" fill="none"/>
<line x1="52.6" y1="231.3" x2="52.6" y2="394.6" stroke="#777" stroke-width="1.2"/>
<line x1="52.6" y1="394.6" x2="216.2" y2="394.6" stroke="#333" stroke-width="1.2"/>
<line x1="48.6" y1="394.6" x2="52.6" y2="394.6" stroke="#333" stroke-width="1"/>
<line x1="48.6" y1="320.3" x2="52.6" y2="320.3" stroke="#333" stroke-width="1"/>
<line x1="48.6" y1="246" x2="52.6" y2="246" stroke="#333" stroke-width="1"/>
<line x1="50.6" y1="357.45" x2="52.6" y2="357.45" stroke="#333" stroke-width="1"/>
<line x1="50.6" y1="283.15" x2="52.6" y2="283.15" stroke="#333" stroke-width="1"/>
<line x1="52.6" y1="394.6" x2="52.6" y2="398.1" stroke="#333" stroke-width="1"/>
<line x1="103.6" y1="394.6" x2="103.6" y2="398.1" stroke="#333" stroke-width="1"/>
<line x1="154.6" y1="394.6" x2="154.6" y2="398.1" stroke="#333" stroke-width="1"/>
<line x1="205.6" y1="394.6" x2="205.6" y2="398.1" stroke="#333" stroke-width="1"/>
<line x1="78.1" y1="394.6" x2="78.1" y2="396.6" stroke="#333" stroke-width="1"/>
<line x1="129.1" y1="394.6" x2="129.1" y2="396.6" stroke="#333" stroke-width="1"/>
<line x1="180.1" y1="394.6" x2="180.1" y2="396.6" stroke="#333" stroke-width="1"/>
<text transform="translate(47,400.1) scale(1,1.09)" font-size="15.9" text-anchor="end" fill="#000">0.5</text>
<text transform="translate(47,325.8) scale(1,1.09)" font-size="15.9" text-anchor="end" fill="#000">1.0</text>
<text transform="translate(47,251.5) scale(1,1.09)" font-size="15.9" text-anchor="end" fill="#000">1.5</text>
<text transform="translate(52.6,414.1) scale(1,1.09)" font-size="15.9" text-anchor="middle" fill="#000">0.5</text>
<text transform="translate(103.6,414.1) scale(1,1.09)" font-size="15.9" text-anchor="middle" fill="#000">1.0</text>
<text transform="translate(154.6,414.1) scale(1,1.09)" font-size="15.9" text-anchor="middle" fill="#000">1.5</text>
<text transform="translate(205.6,414.1) scale(1,1.09)" font-size="15.9" text-anchor="middle" fill="#000">2.0</text>
<text x="134.3" y="436.6" font-size="16.6" text-anchor="middle" fill="#000">log (Scan rate, mV s<tspan dy="-6.47" font-size="10.79">−1</tspan><tspan dy="6.47">)</tspan></text>
<text x="0" y="0" font-size="16.6" text-anchor="middle" fill="#000" transform="translate(16.8,314) rotate(-90)">log (Current density, A g<tspan dy="-6.47" font-size="10.79">−1</tspan><tspan dy="6.47">)</tspan></text>
<text x="55.3" y="250" font-size="16.5" text-anchor="start" fill="#000">(d)</text>
<text x="61.2" y="291" font-size="16.2" text-anchor="start" fill="#000"><tspan font-style="italic">I</tspan><tspan dy="3.5" font-size="11.5">p</tspan><tspan dy="-3.5"> = a</tspan><tspan font-style="italic">v</tspan><tspan dy="-7" font-size="11.5"> b</tspan></text>
<text transform="translate(109,369.8) scale(1,1.08)" font-size="12.8" text-anchor="start" fill="#0000ff">Cathodic (b=0.75)</text>
<text transform="translate(109,386.6) scale(1,1.08)" font-size="12.8" text-anchor="start" fill="#ff0000">Anodic (b=0.75)</text>
<g>
<path d="M294.96,342.93 C295.38,340.9 295.79,338.59 297.45,334.24 C299.1,329.9 302,322.25 304.89,316.87 C307.79,311.49 311.1,306.53 314.82,301.98 C318.54,297.43 323.09,292.88 327.23,289.57 C331.37,286.26 335.5,283.98 339.64,282.12 C343.78,280.26 347.91,279.31 352.05,278.4 C356.19,277.49 360.32,277.08 364.46,276.66 C368.6,276.25 372.73,276.25 376.87,275.92 C381.01,275.59 385.56,275.3 389.28,274.68 C393,274.06 396.31,273.44 399.21,272.19 C402.1,270.95 404.17,269.3 406.65,267.23 C409.14,265.16 411.62,261.81 414.1,259.78 C416.58,257.76 418.65,256.23 421.55,255.07 C424.44,253.91 428.58,253.21 431.47,252.83 C434.37,252.46 436.44,252.05 438.92,252.83 C441.4,253.62 444.38,255.56 446.37,257.55 C448.35,259.54 449.47,261.98 450.83,264.75 C452.2,267.52 453.44,271.37 454.56,274.18 C455.67,276.99 457.25,279.56 457.54,281.63 C457.82,283.69 457.04,284.81 456.29,286.59 C455.55,288.37 454.56,290.11 453.07,292.3 C451.58,294.49 448.93,297.63 447.36,299.74 C445.79,301.85 444.84,302.72 443.64,304.96 C442.44,307.19 441.77,309.92 440.16,313.15 C438.55,316.37 436.23,320.8 433.96,324.32 C431.68,327.83 429.41,331.35 426.51,334.24 C423.61,337.14 419.89,339.62 416.58,341.69 C413.27,343.76 409.96,345 406.65,346.65 C403.34,348.31 400.04,349.96 396.73,351.62 C393.42,353.27 390.11,354.51 386.8,356.58 C383.49,358.65 380.18,361.34 376.87,364.03 C373.56,366.72 369.84,370.44 366.94,372.72 C364.05,374.99 361.98,376.85 359.5,377.68 C357.01,378.51 355.36,378.92 352.05,377.68 C348.74,376.44 343.36,372.3 339.64,370.23 C335.92,368.16 332.98,367.13 329.71,365.27 C326.44,363.41 323.26,361.05 320.03,359.06 C316.81,357.08 313.5,355.05 310.35,353.36 C307.21,351.66 303.73,350.05 301.17,348.89 C298.6,347.73 296,347.4 294.96,346.41 C293.93,345.41 294.55,344.96 294.96,342.93Z" stroke="none" stroke-width="0" fill="#ff0000" fill-opacity="0.5"/>
<path d="M294.72,358.32 C294.8,357.45 296.87,354.93 297.94,353.36 C299.02,351.78 299.8,350.83 301.17,348.89 C302.53,346.94 304.27,344.09 306.13,341.69 C307.99,339.29 310.06,336.97 312.34,334.49 C314.61,332.01 317.3,329.32 319.78,326.8 C322.27,324.27 323.92,322.25 327.23,319.35 C330.54,316.46 335.5,312.53 339.64,309.42 C343.78,306.32 347.91,303.14 352.05,300.74 C356.19,298.34 360.32,296.56 364.46,295.03 C368.6,293.5 372.73,292.46 376.87,291.55 C381.01,290.64 385.14,289.86 389.28,289.57 C393.42,289.28 397.97,290.02 401.69,289.82 C405.41,289.61 408.31,289.4 411.62,288.33 C414.93,287.25 417.82,285.22 421.55,283.36 C425.27,281.5 429.82,279.02 433.96,277.16 C438.09,275.3 442.35,273.85 446.37,272.19 C450.38,270.54 456.91,266.73 458.03,267.23 C459.15,267.73 454.85,272.77 453.07,275.17 C451.29,277.57 449.26,279.6 447.36,281.63 C445.46,283.65 443.51,285.43 441.65,287.33 C439.79,289.24 438.38,290.97 436.19,293.04 C434,295.11 430.94,297.63 428.5,299.74 C426.06,301.85 424.77,303.26 421.55,305.7 C418.32,308.14 413.27,311.78 409.14,314.39 C405,316.99 400.86,319.27 396.73,321.34 C392.59,323.41 388.45,324.65 384.32,326.8 C380.18,328.95 375.63,331.76 371.91,334.24 C368.18,336.73 365.29,339.21 361.98,341.69 C358.67,344.17 355.77,346.86 352.05,349.14 C348.33,351.41 343.78,353.81 339.64,355.34 C335.5,356.87 330.54,357.7 327.23,358.32 C323.92,358.94 323.09,358.98 319.78,359.06 C316.47,359.15 311.1,358.9 307.37,358.82 C303.65,358.73 299.56,358.65 297.45,358.57 C295.34,358.49 294.63,359.19 294.72,358.32Z" stroke="none" stroke-width="0" fill="#0000ff" fill-opacity="0.5"/>
<path d="M294.96,342.93 C295.38,340.9 295.79,338.59 297.45,334.24 C299.1,329.9 302,322.25 304.89,316.87 C307.79,311.49 311.1,306.53 314.82,301.98 C318.54,297.43 323.09,292.88 327.23,289.57 C331.37,286.26 335.5,283.98 339.64,282.12 C343.78,280.26 347.91,279.31 352.05,278.4 C356.19,277.49 360.32,277.08 364.46,276.66 C368.6,276.25 372.73,276.25 376.87,275.92 C381.01,275.59 385.56,275.3 389.28,274.68 C393,274.06 396.31,273.44 399.21,272.19 C402.1,270.95 404.17,269.3 406.65,267.23 C409.14,265.16 411.62,261.81 414.1,259.78 C416.58,257.76 418.65,256.23 421.55,255.07 C424.44,253.91 428.58,253.21 431.47,252.83 C434.37,252.46 436.44,252.05 438.92,252.83 C441.4,253.62 444.38,255.56 446.37,257.55 C448.35,259.54 449.47,261.98 450.83,264.75 C452.2,267.52 453.44,271.37 454.56,274.18 C455.67,276.99 457.25,279.56 457.54,281.63 C457.82,283.69 457.04,284.81 456.29,286.59 C455.55,288.37 454.56,290.11 453.07,292.3 C451.58,294.49 448.93,297.63 447.36,299.74 C445.79,301.85 444.84,302.72 443.64,304.96 C442.44,307.19 441.77,309.92 440.16,313.15 C438.55,316.37 436.23,320.8 433.96,324.32 C431.68,327.83 429.41,331.35 426.51,334.24 C423.61,337.14 419.89,339.62 416.58,341.69 C413.27,343.76 409.96,345 406.65,346.65 C403.34,348.31 400.04,349.96 396.73,351.62 C393.42,353.27 390.11,354.51 386.8,356.58 C383.49,358.65 380.18,361.34 376.87,364.03 C373.56,366.72 369.84,370.44 366.94,372.72 C364.05,374.99 361.98,376.85 359.5,377.68 C357.01,378.51 355.36,378.92 352.05,377.68 C348.74,376.44 343.36,372.3 339.64,370.23 C335.92,368.16 332.98,367.13 329.71,365.27 C326.44,363.41 323.26,361.05 320.03,359.06 C316.81,357.08 313.5,355.05 310.35,353.36 C307.21,351.66 303.73,350.05 301.17,348.89 C298.6,347.73 296,347.4 294.96,346.41 C293.93,345.41 294.55,344.96 294.96,342.93Z" stroke="#ff0000" stroke-width="2" fill="none" stroke-dasharray="1.6,7.2"/>
<path d="M294.72,358.32 C294.8,357.45 296.87,354.93 297.94,353.36 C299.02,351.78 299.8,350.83 301.17,348.89 C302.53,346.94 304.27,344.09 306.13,341.69 C307.99,339.29 310.06,336.97 312.34,334.49 C314.61,332.01 317.3,329.32 319.78,326.8 C322.27,324.27 323.92,322.25 327.23,319.35 C330.54,316.46 335.5,312.53 339.64,309.42 C343.78,306.32 347.91,303.14 352.05,300.74 C356.19,298.34 360.32,296.56 364.46,295.03 C368.6,293.5 372.73,292.46 376.87,291.55 C381.01,290.64 385.14,289.86 389.28,289.57 C393.42,289.28 397.97,290.02 401.69,289.82 C405.41,289.61 408.31,289.4 411.62,288.33 C414.93,287.25 417.82,285.22 421.55,283.36 C425.27,281.5 429.82,279.02 433.96,277.16 C438.09,275.3 442.35,273.85 446.37,272.19 C450.38,270.54 456.91,266.73 458.03,267.23 C459.15,267.73 454.85,272.77 453.07,275.17 C451.29,277.57 449.26,279.6 447.36,281.63 C445.46,283.65 443.51,285.43 441.65,287.33 C439.79,289.24 438.38,290.97 436.19,293.04 C434,295.11 430.94,297.63 428.5,299.74 C426.06,301.85 424.77,303.26 421.55,305.7 C418.32,308.14 413.27,311.78 409.14,314.39 C405,316.99 400.86,319.27 396.73,321.34 C392.59,323.41 388.45,324.65 384.32,326.8 C380.18,328.95 375.63,331.76 371.91,334.24 C368.18,336.73 365.29,339.21 361.98,341.69 C358.67,344.17 355.77,346.86 352.05,349.14 C348.33,351.41 343.78,353.81 339.64,355.34 C335.5,356.87 330.54,357.7 327.23,358.32 C323.92,358.94 323.09,358.98 319.78,359.06 C316.47,359.15 311.1,358.9 307.37,358.82 C303.65,358.73 299.56,358.65 297.45,358.57 C295.34,358.49 294.63,359.19 294.72,358.32Z" stroke="#0000ff" stroke-width="2" fill="none" stroke-dasharray="1.6,6.6"/>
<path d="M295,359 L295,396" stroke="#0000ff" stroke-width="1.6" fill="none" stroke-dasharray="2.5,2.5"/>
<path d="M295.3,345 L295.3,356" stroke="#ff0000" stroke-width="1.6" fill="none" stroke-dasharray="1.6,7"/>
</g>
<rect x="294.5" y="233" width="163.8" height="163.4" stroke="#555" stroke-width="1.2" fill="none"/>
<line x1="294.5" y1="233" x2="294.5" y2="396.4" stroke="#777" stroke-width="1.2"/>
<line x1="294.5" y1="396.4" x2="458.3" y2="396.4" stroke="#333" stroke-width="1.2"/>
<line x1="290.5" y1="266.2" x2="294.5" y2="266.2" stroke="#333" stroke-width="1"/>
<line x1="290.5" y1="314.1" x2="294.5" y2="314.1" stroke="#333" stroke-width="1"/>
<line x1="290.5" y1="362" x2="294.5" y2="362" stroke="#333" stroke-width="1"/>
<line x1="292.5" y1="242.25" x2="294.5" y2="242.25" stroke="#333" stroke-width="1"/>
<line x1="292.5" y1="290.15" x2="294.5" y2="290.15" stroke="#333" stroke-width="1"/>
<line x1="292.5" y1="338.05" x2="294.5" y2="338.05" stroke="#333" stroke-width="1"/>
<line x1="292.5" y1="385.95" x2="294.5" y2="385.95" stroke="#333" stroke-width="1"/>
<line x1="294.5" y1="396.4" x2="294.5" y2="399.9" stroke="#333" stroke-width="1"/>
<line x1="335.45" y1="396.4" x2="335.45" y2="399.9" stroke="#333" stroke-width="1"/>
<line x1="376.4" y1="396.4" x2="376.4" y2="399.9" stroke="#333" stroke-width="1"/>
<line x1="417.35" y1="396.4" x2="417.35" y2="399.9" stroke="#333" stroke-width="1"/>
<line x1="458.3" y1="396.4" x2="458.3" y2="399.9" stroke="#333" stroke-width="1"/>
<line x1="314.98" y1="396.4" x2="314.98" y2="398.4" stroke="#333" stroke-width="1"/>
<line x1="355.93" y1="396.4" x2="355.93" y2="398.4" stroke="#333" stroke-width="1"/>
<line x1="396.88" y1="396.4" x2="396.88" y2="398.4" stroke="#333" stroke-width="1"/>
<line x1="437.82" y1="396.4" x2="437.82" y2="398.4" stroke="#333" stroke-width="1"/>
<text transform="translate(287.6,271.7) scale(1,1.09)" font-size="15.9" text-anchor="end" fill="#000">10</text>
<text transform="translate(287.6,319.6) scale(1,1.09)" font-size="15.9" text-anchor="end" fill="#000">0</text>
<text transform="translate(287.6,367.5) scale(1,1.09)" font-size="15.9" text-anchor="end" fill="#000">-10</text>
<text transform="translate(294.5,414.8) scale(1,1.09)" font-size="15.9" text-anchor="middle" fill="#000">0.0</text>
<text transform="translate(335.45,414.8) scale(1,1.09)" font-size="15.9" text-anchor="middle" fill="#000">0.2</text>
<text transform="translate(376.4,414.8) scale(1,1.09)" font-size="15.9" text-anchor="middle" fill="#000">0.4</text>
<text transform="translate(417.35,414.8) scale(1,1.09)" font-size="15.9" text-anchor="middle" fill="#000">0.6</text>
<text transform="translate(458.3,414.8) scale(1,1.09)" font-size="15.9" text-anchor="middle" fill="#000">0.8</text>
<text x="376.4" y="437.8" font-size="16.6" text-anchor="middle" fill="#000">Potential (V <tspan font-style="italic">vs.</tspan> SCE)</text>
<text x="0" y="0" font-size="16.6" text-anchor="middle" fill="#000" transform="translate(264.4,314.6) rotate(-90)">Current density (A g<tspan dy="-6.47" font-size="10.79">−1</tspan><tspan dy="6.47">)</tspan></text>
<text x="297" y="250.4" font-size="16.5" text-anchor="start" fill="#000">(e)</text>
<text x="342.2" y="256" font-size="12.3" text-anchor="start" fill="#0000ff">Capacitive</text>
<line x1="378.1" y1="258.5" x2="398" y2="280" stroke="#0000ff" stroke-width="1.1"/>
<path d="M395.2,281.3 L400.6,283.6 L399.4,277.8 Z" stroke="none" stroke-width="0" fill="#0000ff"/>
<text x="388" y="316.4" font-size="16.3" text-anchor="middle" fill="#0000ff">42%</text>
<text x="381.8" y="390.1" font-size="13" text-anchor="start" fill="#ff0000">25 mV s<tspan dy="-5.85" font-size="8.45">−1</tspan></text>
<defs><linearGradient id="gg" x1="0" x2="1" y1="0" y2="0"><stop offset="0" stop-color="#053805"/><stop offset="0.35" stop-color="#00ff00"/><stop offset="0.55" stop-color="#00ff00"/><stop offset="1" stop-color="#064406"/></linearGradient><linearGradient id="gw" x1="0" x2="1" y1="0" y2="0"><stop offset="0" stop-color="#2a2a2a"/><stop offset="0.4" stop-color="#ffffff"/><stop offset="0.55" stop-color="#f4f4f4"/><stop offset="1" stop-color="#3a3a3a"/></linearGradient></defs>
<rect x="526.9" y="271.5" width="19.2" height="83.05" stroke="none" stroke-width="0" fill="url(#gw)"/>
<rect x="526.9" y="354.55" width="19.2" height="43.75" stroke="none" stroke-width="0" fill="url(#gg)"/>
<rect x="533.2" y="267.5" width="6.6" height="3.2" stroke="none" stroke-width="0" fill="#00cc00"/>
<rect x="534.3" y="268.3" width="4.4" height="1.6" stroke="none" stroke-width="0" fill="#1a5a1a"/>
<rect x="559.4" y="271.5" width="19.2" height="80.52" stroke="none" stroke-width="0" fill="url(#gw)"/>
<rect x="559.4" y="352.02" width="19.2" height="46.28" stroke="none" stroke-width="0" fill="url(#gg)"/>
<rect x="565.7" y="267.5" width="6.6" height="3.2" stroke="none" stroke-width="0" fill="#00cc00"/>
<rect x="566.8" y="268.3" width="4.4" height="1.6" stroke="none" stroke-width="0" fill="#1a5a1a"/>
<rect x="592.3" y="271.5" width="19.2" height="73.54" stroke="none" stroke-width="0" fill="url(#gw)"/>
<rect x="592.3" y="345.04" width="19.2" height="53.26" stroke="none" stroke-width="0" fill="url(#gg)"/>
<rect x="598.6" y="267.5" width="6.6" height="3.2" stroke="none" stroke-width="0" fill="#00cc00"/>
<rect x="599.7" y="268.3" width="4.4" height="1.6" stroke="none" stroke-width="0" fill="#1a5a1a"/>
<rect x="625" y="271.5" width="19.2" height="50.72" stroke="none" stroke-width="0" fill="url(#gw)"/>
<rect x="625" y="322.22" width="19.2" height="76.08" stroke="none" stroke-width="0" fill="url(#gg)"/>
<rect x="631.3" y="267.5" width="6.6" height="3.2" stroke="none" stroke-width="0" fill="#00cc00"/>
<rect x="632.4" y="268.3" width="4.4" height="1.6" stroke="none" stroke-width="0" fill="#1a5a1a"/>
<rect x="657.6" y="271.5" width="19.2" height="13.95" stroke="none" stroke-width="0" fill="url(#gw)"/>
<rect x="657.6" y="285.45" width="19.2" height="112.85" stroke="none" stroke-width="0" fill="url(#gg)"/>
<rect x="663.9" y="267.5" width="6.6" height="3.2" stroke="none" stroke-width="0" fill="#00cc00"/>
<rect x="665" y="268.3" width="4.4" height="1.6" stroke="none" stroke-width="0" fill="#1a5a1a"/>
<rect x="520.2" y="234.4" width="163.4" height="163.9" stroke="#555" stroke-width="1.2" fill="none"/>
<line x1="520.2" y1="234.4" x2="520.2" y2="398.3" stroke="#777" stroke-width="1.2"/>
<line x1="520.2" y1="398.3" x2="683.6" y2="398.3" stroke="#333" stroke-width="1.2"/>
<line x1="516.2" y1="398.3" x2="520.2" y2="398.3" stroke="#333" stroke-width="1"/>
<line x1="516.2" y1="334.9" x2="520.2" y2="334.9" stroke="#333" stroke-width="1"/>
<line x1="516.2" y1="271.5" x2="520.2" y2="271.5" stroke="#333" stroke-width="1"/>
<line x1="518.2" y1="366.6" x2="520.2" y2="366.6" stroke="#333" stroke-width="1"/>
<line x1="518.2" y1="303.2" x2="520.2" y2="303.2" stroke="#333" stroke-width="1"/>
<line x1="518.2" y1="239.8" x2="520.2" y2="239.8" stroke="#333" stroke-width="1"/>
<line x1="536.5" y1="398.3" x2="536.5" y2="401.8" stroke="#333" stroke-width="1"/>
<line x1="569" y1="398.3" x2="569" y2="401.8" stroke="#333" stroke-width="1"/>
<line x1="601.9" y1="398.3" x2="601.9" y2="401.8" stroke="#333" stroke-width="1"/>
<line x1="634.6" y1="398.3" x2="634.6" y2="401.8" stroke="#333" stroke-width="1"/>
<line x1="667.2" y1="398.3" x2="667.2" y2="401.8" stroke="#333" stroke-width="1"/>
<line x1="552.75" y1="398.3" x2="552.75" y2="400.3" stroke="#333" stroke-width="1"/>
<line x1="585.45" y1="398.3" x2="585.45" y2="400.3" stroke="#333" stroke-width="1"/>
<line x1="618.25" y1="398.3" x2="618.25" y2="400.3" stroke="#333" stroke-width="1"/>
<line x1="650.9" y1="398.3" x2="650.9" y2="400.3" stroke="#333" stroke-width="1"/>
<line x1="520.2" y1="398.3" x2="520.2" y2="400.3" stroke="#333" stroke-width="1"/>
<line x1="683.5" y1="398.3" x2="683.5" y2="400.3" stroke="#333" stroke-width="1"/>
<text transform="translate(512.6,403.8) scale(1,1.09)" font-size="15.9" text-anchor="end" fill="#000">0</text>
<text transform="translate(512.6,340.4) scale(1,1.09)" font-size="15.9" text-anchor="end" fill="#000">50</text>
<text transform="translate(512.6,277) scale(1,1.09)" font-size="15.9" text-anchor="end" fill="#000">100</text>
<text transform="translate(536.5,418.3) scale(1,1.09)" font-size="15.9" text-anchor="middle" fill="#000">5</text>
<text transform="translate(569,418.3) scale(1,1.09)" font-size="15.9" text-anchor="middle" fill="#000">10</text>
<text transform="translate(601.9,418.3) scale(1,1.09)" font-size="15.9" text-anchor="middle" fill="#000">25</text>
<text transform="translate(634.6,418.3) scale(1,1.09)" font-size="15.9" text-anchor="middle" fill="#000">50</text>
<text transform="translate(667.2,418.3) scale(1,1.09)" font-size="15.9" text-anchor="middle" fill="#000">75</text>
<text x="608.8" y="438.6" font-size="16.6" text-anchor="middle" fill="#000">Scan rate (mV s<tspan dy="-6.47" font-size="10.79">−1</tspan><tspan dy="6.47">)</tspan></text>
<text x="0" y="0" font-size="16.6" text-anchor="middle" fill="#000" transform="translate(487,315.9) rotate(-90)">Contribution (%)</text>
<text x="522.5" y="250" font-size="16.5" text-anchor="start" fill="#000">(f)</text>
<rect x="562" y="240.3" width="14.6" height="6.6" stroke="none" stroke-width="0" fill="url(#gg)"/>
<rect x="562" y="254.6" width="14.6" height="6.2" stroke="none" stroke-width="0" fill="url(#gw)"/>
<text x="585.8" y="248" font-size="11.5" text-anchor="start" fill="#000">Capacitive</text>
<text x="585.8" y="261.8" font-size="11.5" text-anchor="start" fill="#000">Diffusion controlled</text>
<defs><radialGradient id="ball" cx="0.38" cy="0.33" r="0.62" fx="0.34" fy="0.28"><stop offset="0" stop-color="#ffffff"/><stop offset="0.2" stop-color="#ffb0b0"/><stop offset="0.45" stop-color="#ff0000"/><stop offset="1" stop-color="#ee0000"/></radialGradient></defs>
<path d="M77.2,546.9 L98.8,546.1 L142.2,544.9 L185.5,544.5 L228.8,544.1 L272.6,545.3 L315.9,544.9 L380.9,545.3 L446.3,549 L489.6,550.6 L598.6,556.1" stroke="#ff0000" stroke-width="1.8" fill="none"/>
<circle cx="77.2" cy="546.9" r="6.8" fill="url(#ball)"/>
<circle cx="98.8" cy="546.1" r="6.8" fill="url(#ball)"/>
<circle cx="142.2" cy="544.9" r="6.8" fill="url(#ball)"/>
<circle cx="185.5" cy="544.5" r="6.8" fill="url(#ball)"/>
<circle cx="228.8" cy="544.1" r="6.8" fill="url(#ball)"/>
<circle cx="272.6" cy="545.3" r="6.8" fill="url(#ball)"/>
<circle cx="315.9" cy="544.9" r="6.8" fill="url(#ball)"/>
<circle cx="380.9" cy="545.3" r="6.8" fill="url(#ball)"/>
<circle cx="446.3" cy="549" r="6.8" fill="url(#ball)"/>
<circle cx="489.6" cy="550.6" r="6.8" fill="url(#ball)"/>
<circle cx="598.6" cy="556.1" r="6.8" fill="url(#ball)"/>
<line x1="55.4" y1="512.8" x2="55.4" y2="677.8" stroke="#333" stroke-width="1.2"/>
<line x1="54.9" y1="677.3" x2="624.8" y2="677.3" stroke="#333" stroke-width="1.2"/>
<line x1="55.4" y1="512.8" x2="624.8" y2="512.8" stroke="#3333ff" stroke-width="1.2"/>
<line x1="624.8" y1="512.8" x2="624.8" y2="677.3" stroke="#3333ff" stroke-width="1.2"/>
<line x1="51.4" y1="677.3" x2="55.4" y2="677.3" stroke="#333" stroke-width="1"/>
<line x1="51.4" y1="621.18" x2="55.4" y2="621.18" stroke="#333" stroke-width="1"/>
<line x1="51.4" y1="565.06" x2="55.4" y2="565.06" stroke="#333" stroke-width="1"/>
<line x1="53.4" y1="649.24" x2="55.4" y2="649.24" stroke="#333" stroke-width="1"/>
<line x1="53.4" y1="593.12" x2="55.4" y2="593.12" stroke="#333" stroke-width="1"/>
<line x1="53.4" y1="537" x2="55.4" y2="537" stroke="#333" stroke-width="1"/>
<line x1="55.4" y1="677.3" x2="55.4" y2="680.8" stroke="#333" stroke-width="1"/>
<line x1="164.02" y1="677.3" x2="164.02" y2="680.8" stroke="#333" stroke-width="1"/>
<line x1="272.64" y1="677.3" x2="272.64" y2="680.8" stroke="#333" stroke-width="1"/>
<line x1="381.26" y1="677.3" x2="381.26" y2="680.8" stroke="#333" stroke-width="1"/>
<line x1="489.88" y1="677.3" x2="489.88" y2="680.8" stroke="#333" stroke-width="1"/>
<line x1="598.5" y1="677.3" x2="598.5" y2="680.8" stroke="#333" stroke-width="1"/>
<line x1="109.71" y1="677.3" x2="109.71" y2="679.3" stroke="#333" stroke-width="1"/>
<line x1="218.33" y1="677.3" x2="218.33" y2="679.3" stroke="#333" stroke-width="1"/>
<line x1="326.95" y1="677.3" x2="326.95" y2="679.3" stroke="#333" stroke-width="1"/>
<line x1="435.57" y1="677.3" x2="435.57" y2="679.3" stroke="#333" stroke-width="1"/>
<line x1="544.19" y1="677.3" x2="544.19" y2="679.3" stroke="#333" stroke-width="1"/>
<line x1="55.4" y1="512.8" x2="55.4" y2="509.3" stroke="#3333ff" stroke-width="1"/>
<line x1="185" y1="512.8" x2="185" y2="509.3" stroke="#3333ff" stroke-width="1"/>
<line x1="314.6" y1="512.8" x2="314.6" y2="509.3" stroke="#3333ff" stroke-width="1"/>
<line x1="444.2" y1="512.8" x2="444.2" y2="509.3" stroke="#3333ff" stroke-width="1"/>
<line x1="573.8" y1="512.8" x2="573.8" y2="509.3" stroke="#3333ff" stroke-width="1"/>
<line x1="120.2" y1="512.8" x2="120.2" y2="510.8" stroke="#3333ff" stroke-width="1"/>
<line x1="249.8" y1="512.8" x2="249.8" y2="510.8" stroke="#3333ff" stroke-width="1"/>
<line x1="379.4" y1="512.8" x2="379.4" y2="510.8" stroke="#3333ff" stroke-width="1"/>
<line x1="509" y1="512.8" x2="509" y2="510.8" stroke="#3333ff" stroke-width="1"/>
<line x1="624.8" y1="677.3" x2="628.8" y2="677.3" stroke="#3333ff" stroke-width="1"/>
<line x1="624.8" y1="610.7" x2="628.8" y2="610.7" stroke="#3333ff" stroke-width="1"/>
<line x1="624.8" y1="544.1" x2="628.8" y2="544.1" stroke="#3333ff" stroke-width="1"/>
<line x1="624.8" y1="644" x2="626.8" y2="644" stroke="#3333ff" stroke-width="1"/>
<line x1="624.8" y1="577.4" x2="626.8" y2="577.4" stroke="#3333ff" stroke-width="1"/>
<text transform="translate(51,682.8) scale(1,1.09)" font-size="15.9" text-anchor="end" fill="#000">0</text>
<text transform="translate(51,626.68) scale(1,1.09)" font-size="15.9" text-anchor="end" fill="#000">4</text>
<text transform="translate(51,570.56) scale(1,1.09)" font-size="15.9" text-anchor="end" fill="#000">8</text>
<text transform="translate(55.4,697.8) scale(1,1.09)" font-size="15.9" text-anchor="middle" fill="#000">0</text>
<text transform="translate(164.02,697.8) scale(1,1.09)" font-size="15.9" text-anchor="middle" fill="#000">100</text>
<text transform="translate(272.64,697.8) scale(1,1.09)" font-size="15.9" text-anchor="middle" fill="#000">200</text>
<text transform="translate(381.26,697.8) scale(1,1.09)" font-size="15.9" text-anchor="middle" fill="#000">300</text>
<text transform="translate(489.88,697.8) scale(1,1.09)" font-size="15.9" text-anchor="middle" fill="#000">400</text>
<text transform="translate(598.5,697.8) scale(1,1.09)" font-size="15.9" text-anchor="middle" fill="#000">500</text>
<text transform="translate(55.4,501.9) scale(1,1.09)" font-size="15.9" text-anchor="middle" fill="#0000ff">0</text>
<text transform="translate(185,501.9) scale(1,1.09)" font-size="15.9" text-anchor="middle" fill="#0000ff">5</text>
<text transform="translate(314.6,501.9) scale(1,1.09)" font-size="15.9" text-anchor="middle" fill="#0000ff">10</text>
<text transform="translate(444.2,501.9) scale(1,1.09)" font-size="15.9" text-anchor="middle" fill="#0000ff">15</text>
<text transform="translate(573.8,501.9) scale(1,1.09)" font-size="15.9" text-anchor="middle" fill="#0000ff">20</text>
<text transform="translate(631.4,682.8) scale(1,1.09)" font-size="15.9" text-anchor="start" fill="#0000ff">0</text>
<text transform="translate(631.4,616.2) scale(1,1.09)" font-size="15.9" text-anchor="start" fill="#0000ff">200</text>
<text transform="translate(631.4,549.6) scale(1,1.09)" font-size="15.9" text-anchor="start" fill="#0000ff">400</text>
<text x="339.6" y="717.8" font-size="16.6" text-anchor="middle" fill="#000">Current density (mA cm<tspan dy="-6.47" font-size="10.79">−2</tspan><tspan dy="6.47">)</tspan></text>
<text x="340" y="479.8" font-size="16.6" text-anchor="middle" fill="#0000ff">Current density (A g<tspan dy="-6.47" font-size="10.79">−1</tspan><tspan dy="6.47">)</tspan></text>
<text x="0" y="0" font-size="16.6" text-anchor="middle" fill="#000" transform="translate(32,596.1) rotate(-90)">Areal capacitance (F cm<tspan dy="-6.47" font-size="10.79">−2</tspan><tspan dy="6.47">)</tspan></text>
<text x="0" y="0" font-size="16.6" text-anchor="middle" fill="#0000ff" transform="translate(679.8,594.2) rotate(-90)">Specific capacitance (F g<tspan dy="-6.47" font-size="10.79">−1</tspan><tspan dy="6.47">)</tspan></text>
<text x="57.3" y="531.5" font-size="16.5" text-anchor="start" fill="#000">(g)</text>
<text x="238.2" y="604.5" font-size="16.6" text-anchor="start" fill="#000">Mass loading: 23.8 mg cm<tspan dy="-6.47" font-size="10.79">−2</tspan></text>
</svg></body></html>
